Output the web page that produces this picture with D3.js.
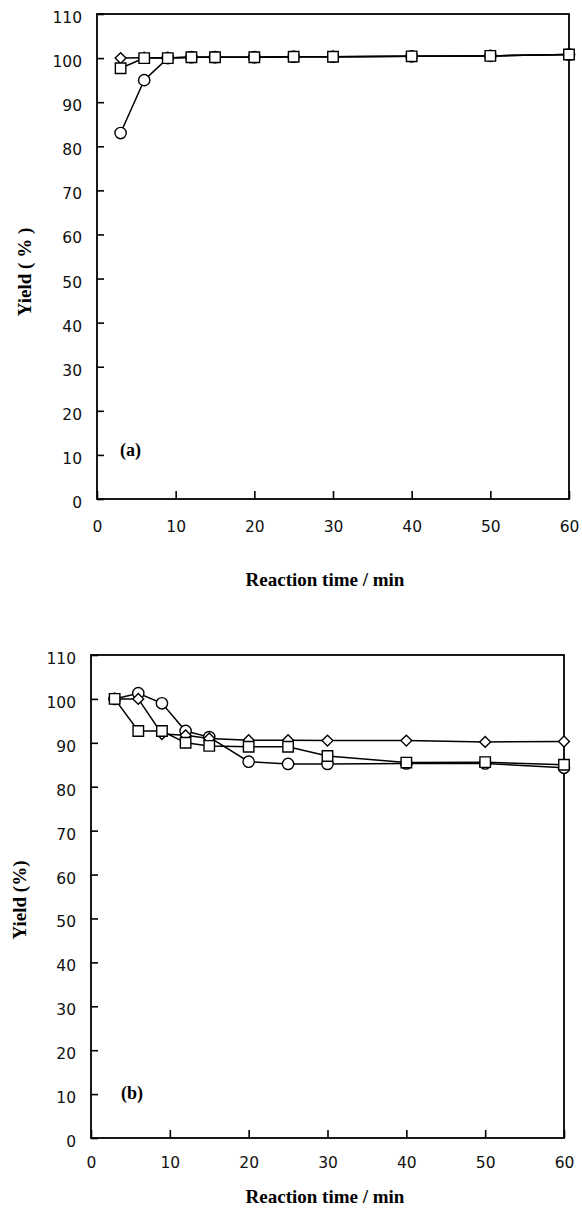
<!DOCTYPE html>
<html>
<head>
<meta charset="utf-8">
<script src="https://cdn.jsdelivr.net/npm/d3@7"></script>
<style>
  body { margin: 0; background: #fff; }
  .tick text { font-family: "DejaVu Sans", sans-serif; font-size: 15.5px; fill: #111; }
  .ttl { font-family: "Liberation Serif", serif; font-weight: bold; font-size: 19px; }
  .lbl { font-family: "Liberation Serif", serif; font-weight: bold; font-size: 18px; }
</style>
</head>
<body>
<div id="chart"></div>
<script>
const W = 582
const H = 1211

// reaction time (min)
const times = [3, 6, 9, 12, 15, 20, 25, 30, 40, 50, 60]
const xTicks = [0, 10, 20, 30, 40, 50, 60]
const yTicks = [0, 10, 20, 30, 40, 50, 60, 70, 80, 90, 100, 110]

// panel (a)
const aCircle = [83, 95, 100, 100.2, 100.2, 100.2, 100.3, 100.3, 100.4, 100.5, 100.8]
const aDiamond = [100, 100.1, 100.1, 100.2, 100.2, 100.2, 100.3, 100.3, 100.4, 100.5, 100.8]
const aSquare = [97.7, 100, 100, 100.2, 100.2, 100.2, 100.3, 100.3, 100.4, 100.5, 100.8]

// panel (b)
const bCircle = [100, 101.3, 99, 92.7, 91.3, 85.7, 85.2, 85.2, 85.3, 85.3, 84.3]
const bDiamond = [100, 100, 92, 91.7, 91, 90.6, 90.6, 90.5, 90.5, 90.2, 90.3]
const bSquare = [100, 92.7, 92.7, 90, 89.3, 89.1, 89.1, 87, 85.5, 85.6, 85]

const svg = d3.select("#chart").append("svg")
    .attr("width", W)
    .attr("height", H)

const drawPanel = (p) => {
    const x = d3.scaleLinear().domain([0, 60]).range([p.left, p.right])
    const y = d3.scaleLinear().domain([0, 110]).range([p.bottom, p.top])
    const g = svg.append("g")

    // x axis, ticks pointing inward
    const xa = g.append("g")
        .attr("transform", `translate(0,${p.bottom})`)
        .call(d3.axisBottom(x).tickValues(xTicks).tickSizeInner(-8).tickSizeOuter(0).tickPadding(p.xPad))
    xa.select(".domain").remove()
    xa.selectAll(".tick line").attr("stroke", "#000").attr("stroke-width", 1.6)

    const ya = g.append("g")
        .attr("transform", `translate(${p.left},0)`)
        .call(d3.axisLeft(y).tickValues(yTicks).tickSizeInner(-7).tickSizeOuter(0).tickPadding(15))
    ya.select(".domain").remove()
    ya.selectAll(".tick line").attr("stroke", "#000").attr("stroke-width", 1.6)
    ya.selectAll(".tick text").attr("dy", "0.55em")

    g.append("rect")
        .attr("x", p.left).attr("y", p.top)
        .attr("width", p.right - p.left).attr("height", p.bottom - p.top)
        .attr("fill", "none").attr("stroke", "#000").attr("stroke-width", 1.8)

    const line = d3.line().x((d, i) => x(times[i])).y(d => y(d))

    const series = [
        { vals: p.circle, shape: d3.symbolCircle, size: 100 },
        { vals: p.diamond, shape: d3.symbolDiamond2, size: 75 },
        { vals: p.square, shape: d3.symbolSquare, size: 110 },
    ]

    series.forEach(s => {
        g.append("path")
            .attr("d", line(s.vals))
            .attr("fill", "none")
            .attr("stroke", "#000")
            .attr("stroke-width", 1.5)
    })
    series.forEach(s => {
        g.selectAll(null)
            .data(s.vals)
            .enter()
            .append("path")
            .attr("transform", (d, i) => `translate(${x(times[i])},${y(d)})`)
            .attr("d", d3.symbol().type(s.shape).size(s.size))
            .attr("fill", "#fff")
            .attr("stroke", "#000")
            .attr("stroke-width", 1.4)
    })

    g.append("text").attr("class", "lbl")
        .attr("x", p.labelX).attr("y", p.labelY)
        .text(p.label)

    g.append("text").attr("class", "ttl")
        .attr("text-anchor", "middle")
        .attr("x", 325).attr("y", p.xTitleY)
        .text("Reaction time / min")

    g.append("text").attr("class", "ttl")
        .attr("text-anchor", "middle")
        .attr("transform", `translate(${p.yTitleX},${p.yTitleY}) rotate(-90)`)
        .text(p.yTitle)
}

drawPanel({
    left: 97, right: 569, top: 14, bottom: 499,
    xPad: 22, xTitleY: 586,
    yTitle: "Yield ( % )", yTitleX: 31, yTitleY: 272,
    label: "(a)", labelX: 120, labelY: 456,
    circle: aCircle, diamond: aDiamond, square: aSquare
})

drawPanel({
    left: 91, right: 564, top: 655, bottom: 1138,
    xPad: 19, xTitleY: 1203,
    yTitle: "Yield (%)", yTitleX: 26, yTitleY: 900,
    label: "(b)", labelX: 121, labelY: 1099,
    circle: bCircle, diamond: bDiamond, square: bSquare
})
</script>
</body>
</html>
